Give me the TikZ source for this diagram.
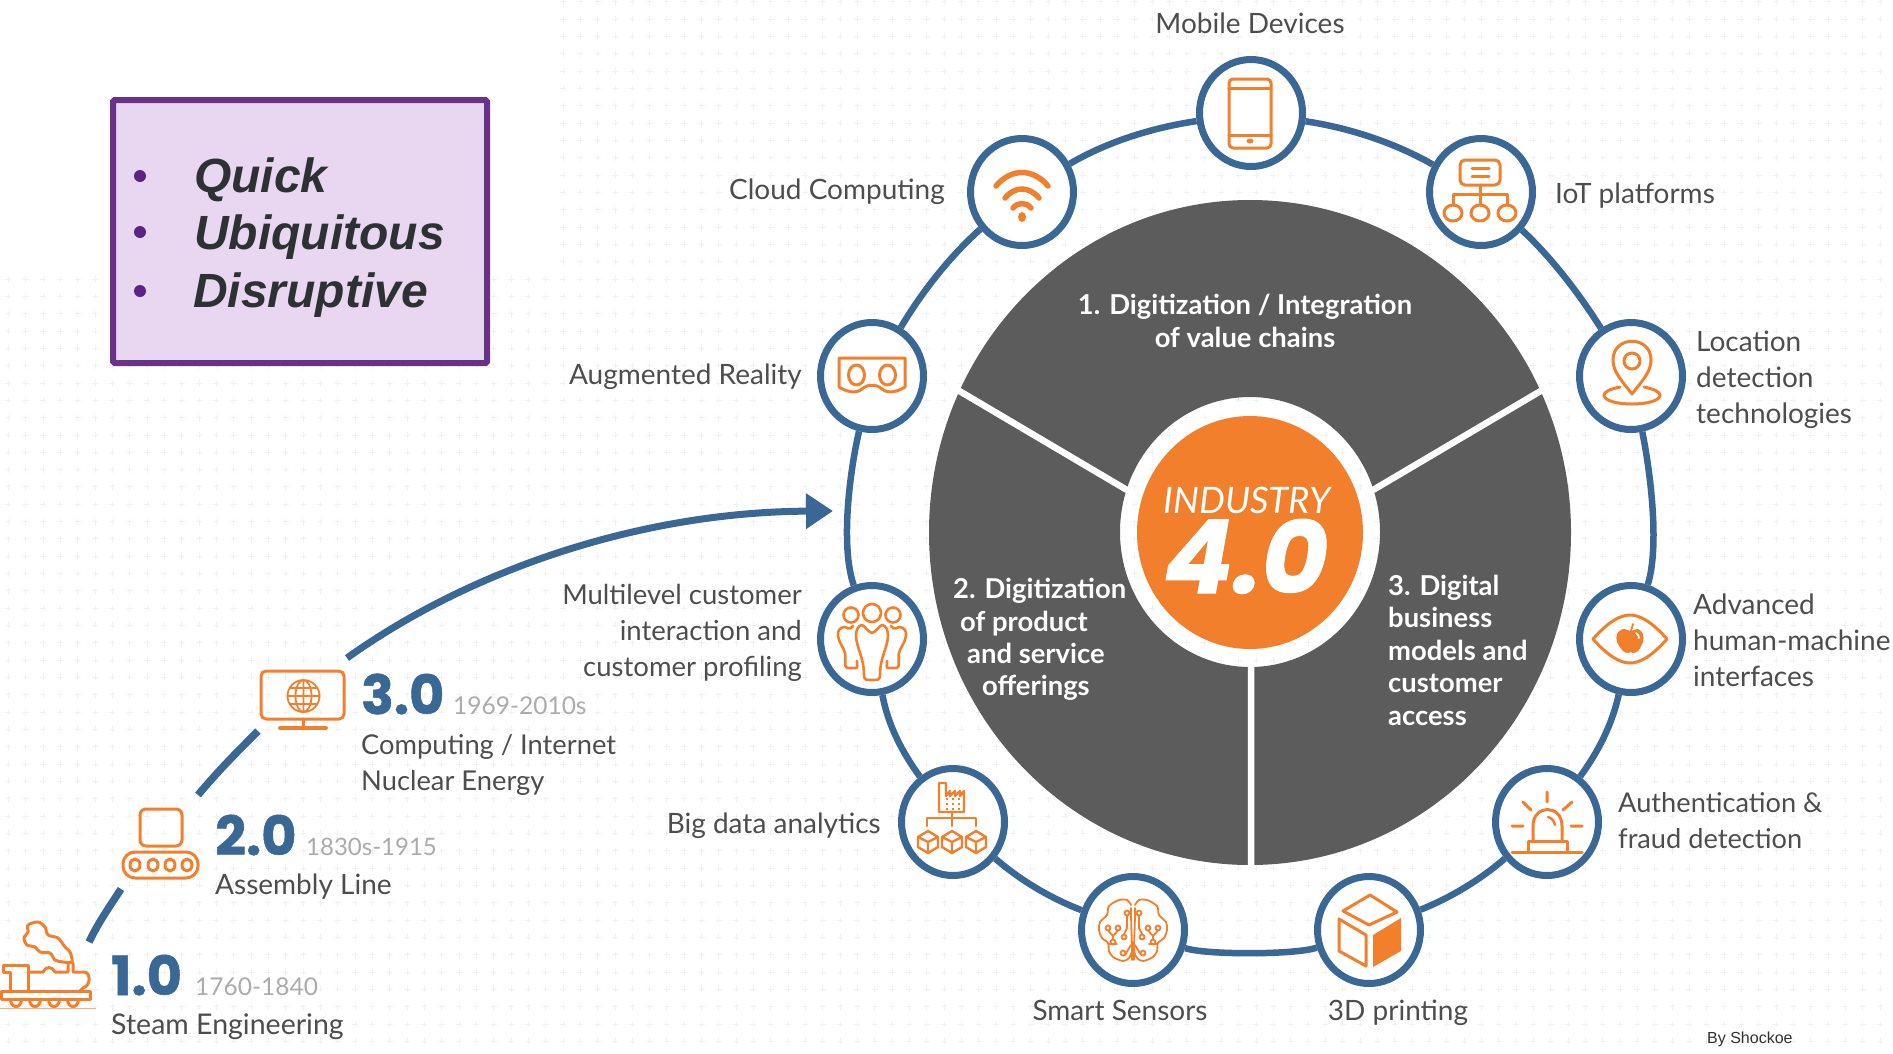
\documentclass[tikz,border=0pt]{standalone}
\usepackage{fontspec}
\usetikzlibrary{shapes.geometric,arrows.meta}
\setmainfont{Lato}
\newfontfamily\arialf{Liberation Sans}
\newfontfamily\heavyf{Poppins}[FakeBold=1]
\definecolor{ringblue}{HTML}{3A6794}
\definecolor{orng}{HTML}{F27F2B}
\definecolor{disc}{HTML}{5C5C5C}
\definecolor{tx}{HTML}{4D4D4D}
\definecolor{datec}{HTML}{ABABAB}
\definecolor{gridc}{HTML}{F1F1F1}
\definecolor{boxfill}{HTML}{E9D7F1}
\definecolor{boxline}{HTML}{6A3285}
\definecolor{bull}{HTML}{5B2480}
\definecolor{boxtx}{HTML}{2E3133}
\tikzset{
 hub/.style={ellipse,draw=ringblue,fill=white,line width=7pt,minimum width=103pt,minimum height=107pt,inner sep=0pt},
 link/.style={draw=ringblue,line width=6.5pt},
 ico/.style={draw=orng,line width=3pt,line join=round,line cap=round},
 icot/.style={draw=orng,line width=1.8pt,line join=round,line cap=round},
 lblw/.style={font=\fontsize{28}{36}\selectfont,text=tx,inner sep=0pt,anchor=base west,align=left},
 lble/.style={font=\fontsize{28}{36}\selectfont,text=tx,inner sep=0pt,anchor=base east,align=right},
 lblc/.style={font=\fontsize{28}{36}\selectfont,text=tx,inner sep=0pt,anchor=base},
 sect/.style={font=\bfseries\fontsize{27.4}{32.5}\selectfont,text=white,inner sep=0pt},
 ver/.style={font=\heavyf\bfseries\fontsize{54}{54}\selectfont,text=ringblue,inner sep=0pt,anchor=base west},
 dates/.style={font=\fontsize{24.5}{24.5}\selectfont,text=datec,inner sep=0pt,anchor=base west},
 bulletdot/.style={circle,fill=bull,minimum size=12pt,inner sep=0pt},
 boxt/.style={font=\arialf\bfseries\itshape\fontsize{48}{48}\selectfont,text=boxtx,inner sep=0pt,anchor=base west},
}
\newcommand\mycube[2]{%
 \draw[ico,line width=2.4pt,shift={(#1,#2)}] (0,-11)--(10,-5)--(10,5)--(0,11)--(-10,5)--(-10,-5)--cycle (-10,-5)--(0,0)--(10,-5) (0,0)--(0,11);}
\begin{document}
\begin{tikzpicture}[x=1pt,y=-1pt]
\useasboundingbox (0,0) rectangle (1893,1053);
% faint background marks
\draw[gridc,line width=.7pt] \foreach \i in {0,...,108} {\foreach \j in {16,...,60} {
  ({8.3+17.33*\i-3},{1.6+17.33*\j}) -- ({8.3+17.33*\i+3},{1.6+17.33*\j})
  ({8.3+17.33*\i},{1.6+17.33*\j-3}) -- ({8.3+17.33*\i},{1.6+17.33*\j+3})}};
\draw[gridc,line width=.7pt] \foreach \i in {32,...,108} {\foreach \j in {0,...,15} {
  ({8.3+17.33*\i-3},{1.6+17.33*\j}) -- ({8.3+17.33*\i+3},{1.6+17.33*\j})
  ({8.3+17.33*\i},{1.6+17.33*\j-3}) -- ({8.3+17.33*\i},{1.6+17.33*\j+3})}};

% central discs
\fill[disc,even odd rule] (1250,532.5) ellipse[x radius=321,y radius=332.5] (1250,532) ellipse[x radius=130,y radius=135];
\coordinate (secA1) at (1127,490); \coordinate (secA2) at (956,389);
\coordinate (secB1) at (1373,490); \coordinate (secB2) at (1544,389);
\coordinate (secC1) at (1251,666); \coordinate (secC2) at (1251,870);
\draw[white,line width=6.5pt] (secA1)--(secA2) (secB1)--(secB2) (secC1)--(secC2);
\node[ellipse,fill=orng,minimum width=226pt,minimum height=233pt,inner sep=0pt] (core) at (1250,532.5) {};
\node[font=\itshape\fontsize{36.5}{36.5}\selectfont,text=white,inner sep=0pt,anchor=base] (industry) at (1247,513) {INDUSTRY};
\node[font=\heavyf\bfseries\itshape\fontsize{102}{102}\selectfont,text=white,inner sep=0pt,anchor=base] (four) at (1246,593) {4.0};

% sector texts
\node[sect,anchor=base,align=center] (s1) at (1245,347) {1. Digitization / Integration\\of value chains};
\node[sect,anchor=base west] (s2a) at (953,598) {2. Digitization};
\node[sect,anchor=base west] (s2b) at (960,631) {of product};
\node[sect,anchor=base west] (s2c) at (967,663) {and service};
\node[sect,anchor=base west] (s2d) at (982,695) {offerings};
\node[sect,anchor=base west,align=left] (s3) at (1388,725) {3. Digital\\business\\models and\\customer\\access};

% hubs
\node[hub] (mobile) at (1251,113) {};
\node[hub] (iot) at (1481,192) {};
\node[hub] (loc) at (1631,376) {};
\node[hub] (eye) at (1631,639) {};
\node[hub] (alarm) at (1547,822) {};
\node[hub] (print) at (1369,930) {};
\node[hub] (sensors) at (1133,930) {};
\node[hub] (bigdata) at (953,822) {};
\node[hub] (multi) at (872,639) {};
\node[hub] (ar) at (872,376) {};
\node[hub] (cloud) at (1022,192) {};

% ring
\draw[link] (mobile) .. controls (1350,128) and (1395,143) .. (iot);
\draw[link] (iot) .. controls (1552,258) and (1580,295) .. (loc);
\draw[link] (loc) .. controls (1650,470) and (1660,545) .. (eye);
\draw[link] (eye) .. controls (1612,725) and (1598,752) .. (alarm);
\draw[link] (alarm) .. controls (1480,880) and (1450,898) .. (print);
\draw[link] (print) .. controls (1295,955) and (1205,955) .. (sensors);
\draw[link] (sensors) .. controls (1050,898) and (1020,880) .. (bigdata);
\draw[link] (bigdata) .. controls (902,752) and (888,725) .. (multi);
\draw[link] (multi) .. controls (840,545) and (850,470) .. (ar);
\draw[link] (ar) .. controls (920,295) and (948,258) .. (cloud);
\draw[link] (cloud) .. controls (1105,143) and (1150,128) .. (mobile);

% phone
\draw[ico,rounded corners=4pt] (1229,79) rectangle (1271,148);
\draw[ico] (1229,88)--(1271,88) (1229,135)--(1271,135);
\fill[orng] (1250,141) ellipse[x radius=3.5,y radius=2.5];
% wifi
\draw[ico,line width=5.5pt] (996,186) .. controls (1011,168) and (1033,168) .. (1048,186);
\draw[ico,line width=5.5pt] (1005,198) .. controls (1015,186) and (1029,186) .. (1039,198);
\draw[ico,line width=5.5pt] (1013,208) .. controls (1018,202) and (1026,202) .. (1031,208);
\fill[orng] (1022,217) ellipse[x radius=4,y radius=5];
% iot tree
\draw[ico,rounded corners=5pt] (1460,160) rectangle (1500,185);
\draw[ico] (1472,168)--(1489,168) (1472,176)--(1489,176);
\draw[ico] (1480,185)--(1480,205) (1453,205)--(1453,194)--(1507,194)--(1507,205);
\draw[ico] (1453,213) ellipse[x radius=9,y radius=8];
\draw[ico] (1480,213) ellipse[x radius=9,y radius=8];
\draw[ico] (1507,213) ellipse[x radius=9,y radius=8];
% AR goggles
\draw[ico] (839,358)--(905,358)--(905,387) .. controls (897,392) and (888,394) .. (882,389) .. controls (877,384) and (867,384) .. (862,389) .. controls (856,394) and (847,392) .. (839,387)--cycle;
\draw[ico] (856.5,375) ellipse[x radius=8,y radius=10];
\draw[ico] (887.5,375) ellipse[x radius=8,y radius=10];
% location pin
\draw[ico] (1632,394) .. controls (1622,381) and (1613,372) .. (1613,360) .. controls (1613,335) and (1651,335) .. (1651,360) .. controls (1651,372) and (1642,381) .. (1632,394)--cycle;
\draw[ico] (1632,361) circle[radius=8];
\draw[ico] (1620,387) .. controls (1610,389) and (1604,392) .. (1604,395) .. controls (1604,407) and (1660,407) .. (1660,395) .. controls (1660,392) and (1654,389) .. (1644,387);
% eye
\draw[ico] (1593,639) .. controls (1608,622) and (1620,615) .. (1630,615) .. controls (1640,615) and (1652,622) .. (1667,639) .. controls (1652,656) and (1640,663) .. (1630,663) .. controls (1620,663) and (1608,656) .. (1593,639)--cycle;
\fill[orng,shift={(1630,639)}] plot[smooth cycle] coordinates {(1,-8)(8,-10)(13,-5)(13,3)(8,12)(3,14)(1,13)(-2,14)(-7,12)(-13,3)(-13,-5)(-7,-10)};
\draw[icot,shift={(1630,639)}] (1,-8)--(3,-15);
\draw[white,line width=1.8pt,line cap=round,shift={(1630,639)}] (6,-6) .. controls (8,-5) and (9,-3) .. (9,-1);
% alarm
\draw[ico] (1512,852.5)--(1582,852.5) (1528,852)--(1528,841)--(1567,841)--(1567,852);
\draw[ico] (1533,841)--(1533,826) .. controls (1533,804) and (1562,804) .. (1562,826)--(1562,841);
\draw[ico] (1547,792)--(1547,802) (1523,802)--(1531,810) (1572,802)--(1563,810) (1512,826)--(1523,826) (1571,826)--(1582,826);
\draw[icot,line width=2.4pt] (1548,817) .. controls (1552,818) and (1554,821) .. (1555,825);
% 3D cube
\draw[ico] (1370,895)--(1397,912)--(1369,925)--(1343,911)--cycle;
\draw[ico] (1339,919)--(1366,935)--(1366,966)--(1339,951)--cycle;
\fill[orng] (1373,935)--(1401,918)--(1401,951)--(1373,967)--cycle;
% brain
\begin{scope}[shift={(1133,930)}]
\foreach \s in {1,-1}{
 \draw[icot,xscale=\s] (1,30) -- (1,18) .. controls (1,10) and (2,-2) .. (2,-22);
 \draw[icot,xscale=\s] plot[smooth] coordinates {(2,-25)(6,-30)(14,-30)(24,-24)(26,-15)(33,-8)(34,0)(31,8)(25,13)(24,21)(20,27)(10,31)(4,28)(1,21)};
 \draw[icot,xscale=\s] (6,-17) circle[radius=2.5] (6,-14.5)--(6,-2)--(9,4) (9,7) circle[radius=2.5];
 \draw[icot,xscale=\s] (15,-2) circle[radius=2.5] (25,-2) circle[radius=2.5] (15,.5)--(20,6)--(25,.5) (20,6)--(20,9) (20,12) circle[radius=2.5];
 \draw[icot,xscale=\s] (10,23) circle[radius=2.5] (8,25)--(2,15) (24,14)--(16,14);
}
\end{scope}
% big data
\draw[ico,line width=2.4pt] (939,812)--(939,783)--(946,783)--(946,796)--(950,791)--(950,796)--(955,791)--(955,796)--(960,791)--(960,796)--(964,791)--(964,812)--cycle;
\foreach \a in {947,953,959} \foreach \b in {799,804,809} {\fill[orng] (\a-1.2,\b-1.2) rectangle (\a+1.2,\b+1.2);}
\draw[ico,line width=2.4pt] (952,812)--(952,826) (927,826)--(927,818)--(976,818)--(976,826);
\mycube{928}{842}\mycube{952}{842}\mycube{976}{842}
% people
\begin{scope}[shift={(872,639)}]
\draw[ico,line width=2.6pt] (0,-26) circle[radius=9] (-21,-24) circle[radius=7.5] (21,-24) circle[radius=7.5];
\draw[ico,line width=2.6pt] (0,-6) .. controls (-3,-6) and (-8,-14) .. (-10,-14) .. controls (-14,-14) and (-16,-8) .. (-16,-4) .. controls (-16,8) and (-8,18) .. (-8,36) .. controls (-8,41) and (-6,41) .. (0,41) .. controls (6,41) and (8,41) .. (8,36) .. controls (8,18) and (16,8) .. (16,-4) .. controls (16,-8) and (14,-14) .. (10,-14) .. controls (8,-14) and (3,-6) .. (0,-6);
\foreach \s in {1,-1}{
 \draw[ico,line width=2.6pt,xscale=\s] (19,-13) .. controls (24,-8) and (24,-12) .. (27,-12) .. controls (31,-12) and (35,-9) .. (34,-3) .. controls (33,4) and (28,9) .. (27,14) .. controls (26,18) and (28,29) .. (25,29) -- (16,29) .. controls (14,29) and (15,26) .. (15,22);
}
\end{scope}

% labels around ring
\node[lblc] (tmobile) at (1250,33) {Mobile Devices};
\node[lble] (tcloud) at (945,199) {Cloud Computing};
\node[lblw] (tiot) at (1555,203) {IoT platforms};
\node[lble] (tar) at (802,384) {Augmented Reality};
\node[lblw] (tloc) at (1696,423) {Location\\detection\\technologies};
\node[lblw] (teye) at (1693,686) {Advanced\\human-machine\\interfaces};
\node[lblw,font=\fontsize{27.2}{36}\selectfont] (talarm) at (1618,848) {Authentication \&\\fraud detection};
\node[lble,font=\fontsize{27.5}{36}\selectfont] (tmulti) at (802,676) {Multilevel customer\\interaction and\\customer profiling};
\node[lble] (tbig) at (881,833) {Big data analytics};
\node[lblc] (tsens) at (1120,1020) {Smart Sensors};
\node[lblc] (tprint) at (1398,1020) {3D printing};
\node[font=\arialf\fontsize{16}{16}\selectfont,text=boxtx,inner sep=0pt,anchor=base west] (shock) at (1707,1043) {By Shockoe};

% purple box
\node[draw=boxline,fill=boxfill,line width=6pt,rounded corners=1.5pt,minimum width=374pt,minimum height=263pt,inner sep=0pt,anchor=north west] (box) at (110,97) {};
\node[bulletdot] (b1) at (140,176) {};
\node[bulletdot] (b2) at (140,232) {};
\node[bulletdot] (b3) at (140,291) {};
\node[boxt] (q) at (194,192) {Quick};
\node[boxt] (u) at (194,249) {Ubiquitous};
\node[boxt] (d) at (193,307) {Disruptive};

% timeline connectors
\coordinate (tr1) at (89,942); \coordinate (as1) at (121,889);
\coordinate (as2) at (198,795); \coordinate (co1) at (258,731);
\coordinate (co2) at (347,658); \coordinate (head) at (833,511);
\draw[link,line width=7.5pt] (tr1) .. controls (98,923) and (110,906) .. (as1);
\draw[link,line width=7.5pt] (as2) .. controls (218,771) and (238,751) .. (co1);
\draw[link,line width=7pt,-{Triangle[length=27pt,width=34pt]}] (co2) .. controls (470,570) and (640,512) .. (head);

% monitor
\draw[ico,rounded corners=5pt] (261,671) rectangle (344,719);
\draw[ico] (303,719)--(303,728);
\draw[ico,line width=4pt] (280,728)--(326,728);
\draw[icot] (303.5,696) circle[radius=16] (303.5,696) ellipse[x radius=8,y radius=16] (303.5,680)--(303.5,712) (287.5,696)--(319.5,696) (290,688)--(317,688) (290,704)--(317,704);
% conveyor
\draw[ico,rounded corners=6pt] (140,809) rectangle (182,846);
\draw[ico,rounded corners=12pt] (123,852) rectangle (198,878);
\foreach \a in {135,153,170,187} {\draw[ico] (\a,865) ellipse[x radius=5,y radius=6];}
% train
\draw[ico] (1.5,991) rectangle (90,999);
\draw[ico] (10,991)--(10,972)--(3,972)--(3,965)--(28,965)--(28,991);
\draw[ico] (28,972)--(43,972) .. controls (46,966) and (52,966) .. (55,972)--(68,972)--(68,963) (73,963)--(73,972)--(84,972) .. controls (91,972) and (91,986) .. (83,988)--(80,991);
\draw[ico] plot[smooth cycle] coordinates {(38,922)(45,927)(48,935)(58,938)(65,947)(70,952)(72,962)(63,962)(55,960)(50,953)(40,952)(35,947)(27,945)(24,938)(28,932)(28,925)};
\foreach \a in {16,35,54,73} {\draw[ico] (\a-5.5,999) .. controls (\a-5.5,1009) and (\a+5.5,1009) .. (\a+5.5,999);}
\draw[orng!60,line width=1pt] (0,1008)--(96,1008);

% timeline text
\node[ver] (v1) at (111,995) {1.0};
\node[dates] (d1) at (195,995) {1760-1840};
\node[lblw,font=\fontsize{28.5}{36}\selectfont] (t1) at (111,1034) {Steam Engineering};
\node[ver] (v2) at (215,855) {2.0};
\node[dates,font=\fontsize{24}{24}\selectfont] (d2) at (306,855) {1830s-1915};
\node[lblw] (t2) at (215,894) {Assembly Line};
\node[ver] (v3) at (361,714) {3.0};
\node[dates] (d3) at (453,714) {1969-2010s};
\node[lblw,font=\fontsize{27.3}{36}\selectfont] (t3) at (361,790) {Computing / Internet\\Nuclear Energy};
\end{tikzpicture}
\end{document}
